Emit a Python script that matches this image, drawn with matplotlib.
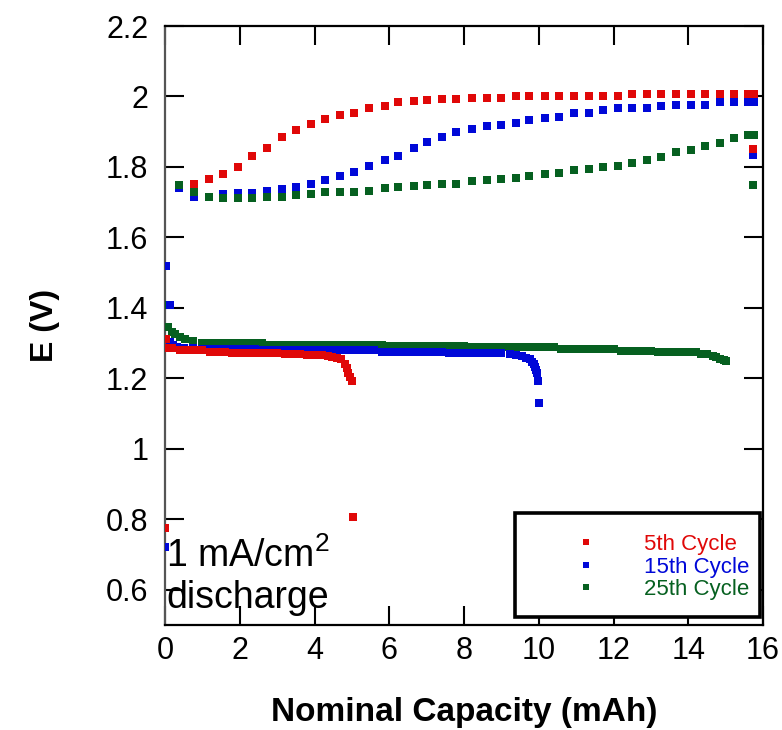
import matplotlib
matplotlib.use("Agg")
import matplotlib.pyplot as plt
from matplotlib.patches import Rectangle

plt.rcParams['font.family'] = ['Liberation Sans', 'DejaVu Sans']
plt.rcParams['mathtext.fontset'] = 'custom'
plt.rcParams['mathtext.rm'] = 'Liberation Sans'

RED = '#e00808'
BLUE = '#0008d8'
GREEN = '#066020'

# ---------------- charge curves (upper branches) ----------------
charge_x = [0.37, 0.78, 1.19, 1.56, 1.96, 2.33, 2.74, 3.14, 3.51, 3.91,
            4.29, 4.69, 5.06, 5.46, 5.89, 6.24, 6.67, 7.01, 7.41, 7.79,
            8.22, 8.62, 8.99, 9.39, 9.74, 10.17, 10.54, 10.94, 11.35, 11.72,
            12.12, 12.49, 12.89, 13.27, 13.67, 14.07, 14.45, 14.85, 15.22, 15.6,
            15.75, 15.72]

red_charge_x = charge_x[1:]
red_charge_y = [1.753, 1.767, 1.781, 1.801, 1.830, 1.855, 1.884, 1.906, 1.923,
                1.935, 1.946, 1.954, 1.966, 1.974, 1.983, 1.986, 1.989, 1.994, 1.994,
                1.997, 1.997, 1.997, 2.000, 2.000, 2.000, 2.000, 2.000, 2.000, 2.000,
                2.000, 2.006, 2.006, 2.006, 2.006, 2.006, 2.006, 2.006, 2.006, 2.006,
                2.006, 1.852]

blue_charge_x = charge_x
blue_charge_y = [1.739, 1.716, 1.716, 1.722, 1.725, 1.726, 1.732, 1.736, 1.743, 1.751,
                 1.762, 1.774, 1.785, 1.802, 1.819, 1.832, 1.853, 1.870, 1.884, 1.898,
                 1.907, 1.915, 1.918, 1.926, 1.932, 1.938, 1.943, 1.952, 1.954, 1.963,
                 1.966, 1.968, 1.968, 1.974, 1.977, 1.977, 1.977, 1.983, 1.983, 1.983,
                 1.983, 1.834]

green_charge_x = charge_x
green_charge_y = [1.750, 1.728, 1.716, 1.711, 1.711, 1.711, 1.716, 1.716, 1.719, 1.722,
                  1.728, 1.728, 1.730, 1.733, 1.739, 1.742, 1.747, 1.750, 1.753, 1.753,
                  1.759, 1.762, 1.767, 1.770, 1.773, 1.779, 1.784, 1.790, 1.793, 1.801,
                  1.804, 1.812, 1.821, 1.829, 1.841, 1.849, 1.860, 1.869, 1.881, 1.892,
                  1.892, 1.748]

# ---------------- discharge curves (lower branches) ----------------
red_dis_x = [0.0, 0.03, 0.04, 0.2, 0.4, 0.6, 0.8, 1.0, 1.2, 1.4, 1.6, 1.8, 2.0,
             2.2, 2.4, 2.6, 2.8, 3.0, 3.2, 3.4, 3.6, 3.8, 4.0, 4.2, 4.35, 4.46,
             4.59, 4.72, 4.81, 4.86, 4.90, 4.95, 5.01, 5.04]
red_dis_y = [0.775, 1.313, 1.285, 1.285, 1.280, 1.280, 1.280, 1.280, 1.275, 1.275,
             1.275, 1.272, 1.272, 1.272, 1.272, 1.272, 1.272, 1.272, 1.269, 1.269,
             1.269, 1.266, 1.266, 1.266, 1.263, 1.261, 1.259, 1.254, 1.242, 1.228,
             1.214, 1.204, 1.192, 0.806]

blue_dis_x = [0.0, 0.03, 0.13, 0.13, 0.22, 0.31, 0.5, 0.75, 1.0, 1.2, 1.4, 1.6, 1.8,
              2.0, 2.2, 2.4, 2.6, 2.8, 3.0, 3.2, 3.4, 3.6, 3.8, 4.0, 4.2, 4.4,
              4.6, 4.8, 5.0, 5.2, 5.4, 5.6, 5.8, 6.0, 6.2, 6.4, 6.6, 6.8, 7.0,
              7.2, 7.4, 7.6, 7.8, 8.0, 8.2, 8.4, 8.6, 8.8, 9.0, 9.22, 9.4, 9.54,
              9.67, 9.76, 9.82, 9.87, 9.89, 9.92, 9.94, 9.98, 10.01]
blue_dis_y = [0.721, 1.518, 1.408, 1.304, 1.294, 1.290, 1.287, 1.285, 1.283, 1.283,
              1.283, 1.283, 1.283, 1.283, 1.283, 1.283, 1.280, 1.280, 1.280, 1.280,
              1.280, 1.280, 1.280, 1.280, 1.280, 1.280, 1.280, 1.280, 1.280, 1.280,
              1.280, 1.280, 1.275, 1.275, 1.275, 1.275, 1.275, 1.275, 1.275, 1.275,
              1.275, 1.273, 1.273, 1.273, 1.271, 1.271, 1.271, 1.271, 1.271, 1.268,
              1.266, 1.263, 1.259, 1.254, 1.247, 1.240, 1.231, 1.223, 1.214, 1.192,
              1.129]

green_dis_x = [0.0, 0.09, 0.18, 0.27, 0.4, 0.53, 0.76, 1.0, 1.2, 1.4, 1.6, 1.8, 2.0,
               2.2, 2.4, 2.6, 2.8, 3.0, 3.2, 3.4, 3.6, 3.8, 4.0, 4.2, 4.4, 4.6,
               4.8, 5.0, 5.2, 5.4, 5.6, 5.8, 6.0, 6.2, 6.4, 6.6, 6.8, 7.0, 7.2,
               7.4, 7.6, 7.8, 8.0, 8.2, 8.4, 8.6, 8.8, 9.0, 9.2, 9.4, 9.6, 9.8,
               10.0, 10.2, 10.4, 10.6, 10.8, 11.0, 11.2, 11.4, 11.6, 11.8, 12.0,
               12.2, 12.4, 12.6, 12.8, 13.0, 13.2, 13.4, 13.6, 13.8, 14.0, 14.2,
               14.35, 14.5, 14.65, 14.75, 14.85, 14.95, 15.0]
green_dis_y = [1.408, 1.346, 1.332, 1.325, 1.318, 1.311, 1.306, 1.299, 1.299, 1.299,
               1.299, 1.299, 1.299, 1.299, 1.299, 1.299, 1.296, 1.296, 1.296, 1.296,
               1.296, 1.296, 1.296, 1.296, 1.296, 1.296, 1.296, 1.296, 1.296, 1.296,
               1.296, 1.296, 1.292, 1.292, 1.292, 1.292, 1.292, 1.292, 1.292, 1.292,
               1.292, 1.292, 1.292, 1.288, 1.288, 1.288, 1.288, 1.288, 1.288, 1.288,
               1.288, 1.288, 1.288, 1.288, 1.288, 1.284, 1.284, 1.284, 1.284, 1.284,
               1.284, 1.284, 1.284, 1.279, 1.279, 1.279, 1.279, 1.279, 1.275, 1.275,
               1.275, 1.274, 1.274, 1.274, 1.268, 1.268, 1.263, 1.261, 1.256, 1.252,
               1.249]

series_labels = ['5th Cycle', '15th Cycle', '25th Cycle']
x_ticks = [0, 2, 4, 6, 8, 10, 12, 14, 16]
y_ticks = [0.6, 0.8, 1.0, 1.2, 1.4, 1.6, 1.8, 2.0, 2.2]
y_ticklabels = ['0.6', '0.8', '1', '1.2', '1.4', '1.6', '1.8', '2', '2.2']

fig = plt.figure(figsize=(7.82, 7.30), dpi=100)
ax = fig.add_axes([165 / 782, 105 / 730, 598 / 782, 599 / 730])

ms = 5.3
# discharge
ax.plot(green_dis_x, green_dis_y, 's', color=GREEN, ms=ms, mew=0, zorder=3)
ax.plot(blue_dis_x, blue_dis_y, 's', color=BLUE, ms=ms, mew=0, zorder=4)
ax.plot(red_dis_x, red_dis_y, 's', color=RED, ms=ms, mew=0, zorder=5)
# charge
ax.plot(blue_charge_x, blue_charge_y, 's', color=BLUE, ms=ms, mew=0, zorder=3)
ax.plot(green_charge_x, green_charge_y, 's', color=GREEN, ms=ms, mew=0, zorder=4)
ax.plot(red_charge_x, red_charge_y, 's', color=RED, ms=ms, mew=0, zorder=5)

# legend handles
handles = [
    ax.plot([], [], 's', color=c, ms=4.2, mew=0, label=l)[0]
    for c, l in zip([RED, BLUE, GREEN], series_labels)
]

ax.set_xlim(0, 16)
ax.set_ylim(0.5, 2.2)
ax.set_xticks(x_ticks)
ax.set_xticklabels([str(t) for t in x_ticks])
ax.set_yticks(y_ticks)
ax.set_yticklabels(y_ticklabels)
ax.tick_params(direction='in', top=True, right=True, length=14, width=1.5,
               labelsize=22)
ax.tick_params(axis='y', pad=12)
ax.tick_params(axis='x', pad=8)
for s in ax.spines.values():
    s.set_linewidth(1.6)
ax.spines['left'].set_color('#555555')

ax.set_xlabel('Nominal Capacity (mAh)', fontsize=24, fontweight='bold', labelpad=22)
ax.set_ylabel('E (V)', fontsize=23, fontweight='bold', labelpad=33)

# annotation
ax.text(0.002, 0.097, '1 mA/cm$^2$', transform=ax.transAxes, fontsize=27,
        ha='left', va='baseline')
ax.text(0.002, 0.028, 'discharge', transform=ax.transAxes, fontsize=27,
        ha='left', va='baseline')

# legend box
x0 = (515 - 165) / 598
y0 = (625 - 617) / 599
w = (760 - 515) / 598
h = (617 - 513) / 599
ax.add_patch(Rectangle((x0, y0), w, h, transform=ax.transAxes, fill=True,
                       facecolor='white', edgecolor='black', lw=2.6, zorder=6))
leg = ax.legend(handles=handles, loc='center',
                bbox_to_anchor=((662 - 165) / 598, (625 - 567) / 599),
                frameon=False, fontsize=16, handlelength=1.0, handletextpad=2.1,
                labelspacing=0.07, borderpad=0)
leg.set_zorder(7)
for t, c in zip(leg.get_texts(), [RED, BLUE, GREEN]):
    t.set_color(c)

fig.savefig('out.png', dpi=100)
